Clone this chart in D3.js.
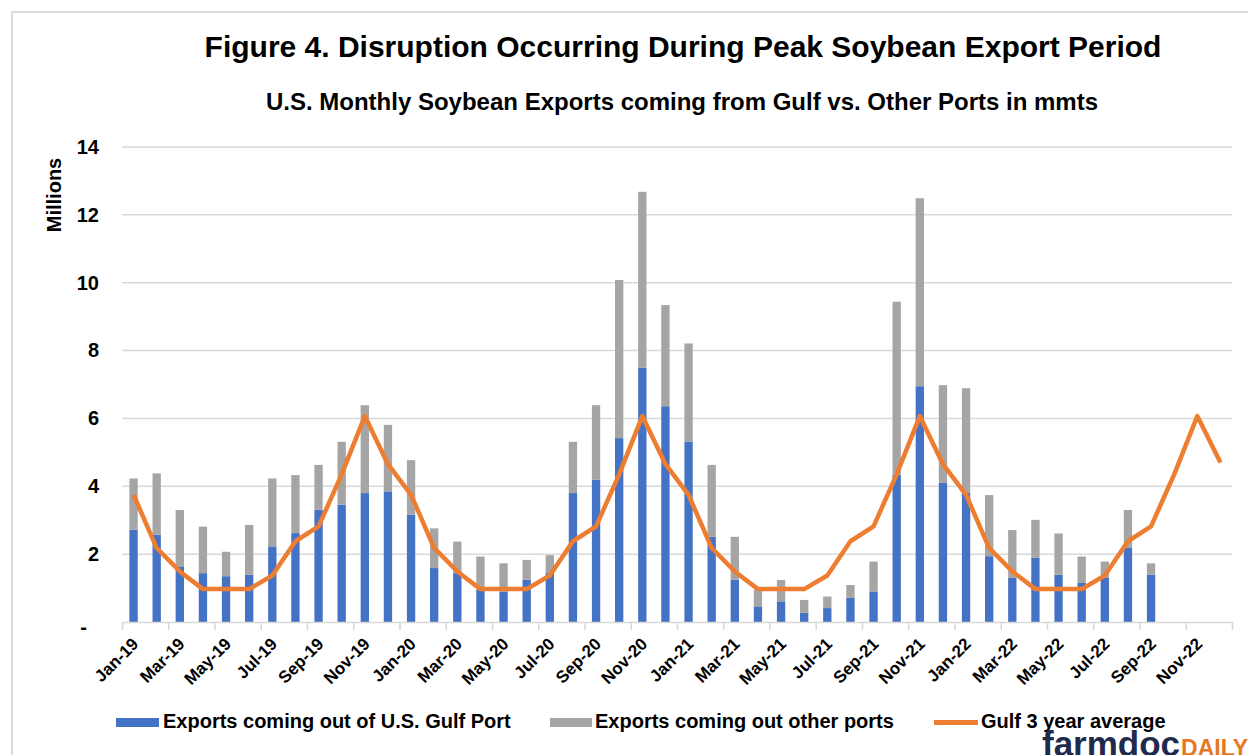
<!DOCTYPE html>
<html>
<head>
<meta charset="utf-8">
<style>
  body { margin: 0; background: #fff; }
  svg { display: block; font-family: "Liberation Sans", Arial, sans-serif; }
</style>
</head>
<body>
<svg width="1248" height="755"></svg>
<script src="https://d3js.org/d3.v7.min.js"></script>
<script>

    // months shown on the x axis, Jan-19 .. Dec-22
    var months = [
        "Jan-19", "Feb-19", "Mar-19", "Apr-19", "May-19", "Jun-19", "Jul-19", "Aug-19", "Sep-19", "Oct-19", "Nov-19", "Dec-19",
        "Jan-20", "Feb-20", "Mar-20", "Apr-20", "May-20", "Jun-20", "Jul-20", "Aug-20", "Sep-20", "Oct-20", "Nov-20", "Dec-20",
        "Jan-21", "Feb-21", "Mar-21", "Apr-21", "May-21", "Jun-21", "Jul-21", "Aug-21", "Sep-21", "Oct-21", "Nov-21", "Dec-21",
        "Jan-22", "Feb-22", "Mar-22", "Apr-22", "May-22", "Jun-22", "Jul-22", "Aug-22", "Sep-22", "Oct-22", "Nov-22", "Dec-22"
    ];

    // exports out of the U.S. Gulf port (millions of tons)
    var gulfExports = [
        2.72, 2.57, 1.64, 1.44, 1.35, 1.39, 2.23, 2.62, 3.31, 3.46, 3.80, 3.85,
        3.16, 1.59, 1.44, 0.95, 0.90, 1.25, 1.44, 3.80, 4.19, 5.42, 7.49, 6.36,
        5.32, 2.52, 1.25, 0.46, 0.61, 0.27, 0.41, 0.71, 0.90, 4.34, 6.95, 4.10,
        3.80, 1.94, 1.30, 1.89, 1.39, 1.15, 1.30, 2.18, 1.39, null, null, null
    ];

    // exports out of the other ports, stacked on top
    var otherExports = [
        1.51, 1.81, 1.66, 1.37, 0.72, 1.47, 2.00, 1.71, 1.32, 1.85, 2.59, 1.96,
        1.61, 1.17, 0.93, 0.98, 0.83, 0.58, 0.53, 1.51, 2.20, 4.66, 5.19, 2.98,
        2.89, 2.11, 1.26, 0.49, 0.63, 0.38, 0.34, 0.38, 0.88, 5.10, 5.54, 2.88,
        3.09, 1.80, 1.41, 1.12, 1.22, 0.78, 0.48, 1.12, 0.34, null, null, null
    ];

    // gulf 3 year average
    var gulfAverage = [
        3.75, 2.18, 1.49, 0.97, 0.97, 0.97, 1.37, 2.38, 2.82, 4.35, 6.07, 4.65,
        3.75, 2.18, 1.49, 0.97, 0.97, 0.97, 1.37, 2.38, 2.82, 4.35, 6.07, 4.65,
        3.75, 2.18, 1.49, 0.97, 0.97, 0.97, 1.37, 2.38, 2.82, 4.35, 6.07, 4.65,
        3.75, 2.18, 1.49, 0.97, 0.97, 0.97, 1.37, 2.38, 2.82, 4.35, 6.07, 4.70
    ];

    var yTicks = [0, 2, 4, 6, 8, 10, 12, 14];

    var svg = d3.select("svg"),
        margin = {top: 147, right: 16, bottom: 133, left: 122},
        width = 1232 - margin.left,
        height = 622 - margin.top;

    var blue = "#4472c4", grey = "#a5a5a5", orange = "#ed7d31", gridColor = "#d9d9d9";

    // outer frame (only top / left visible in the picture)
    svg.append("rect")
        .attr("x", 12).attr("y", 12)
        .attr("width", 1300).attr("height", 800)
        .attr("fill", "none")
        .attr("stroke", "#d0d0d0")
        .attr("stroke-width", 1.5);

    // titles
    svg.append("text")
        .attr("x", 683).attr("y", 57)
        .attr("text-anchor", "middle")
        .style("font-size", "30px").style("font-weight", "bold")
        .text("Figure 4. Disruption Occurring During Peak Soybean Export Period");

    svg.append("text")
        .attr("x", 682).attr("y", 110)
        .attr("text-anchor", "middle")
        .style("font-size", "24px").style("font-weight", "bold")
        .text("U.S. Monthly Soybean Exports coming from Gulf vs. Other Ports in mmts");

    var g = svg.append("g").attr("transform", "translate(" + margin.left + "," + margin.top + ")");

    var x = d3.scaleBand()
        .domain(months)
        .range([0, width])
        .paddingInner(0.64)
        .paddingOuter(0.32);

    var y = d3.scaleLinear()
        .domain([0, 14])
        .range([height, 0]);

    // gridlines
    g.append("g")
        .selectAll("line")
        .data(yTicks.filter(function (d) { return d > 0; }))
        .enter().append("line")
        .attr("x1", 0).attr("x2", width)
        .attr("y1", function (d) { return y(d); })
        .attr("y2", function (d) { return y(d); })
        .attr("stroke", gridColor)
        .attr("stroke-width", 1.5);

    // y axis labels
    var yAxis = g.append("g")
        .call(d3.axisLeft(y).tickValues(yTicks).tickSize(0).tickPadding(23)
            .tickFormat(function (d) { return d === 0 ? "-" : d; }));
    yAxis.select(".domain").remove();
    yAxis.selectAll("text")
        .style("font-size", "20px").style("font-weight", "bold")
        .attr("fill", "#000")
        .attr("font-family", null);
    yAxis.selectAll(".tick")
        .filter(function (d) { return d === 0; })
        .select("text")
        .attr("x", -35).attr("dy", "0.55em");

    svg.append("text")
        .attr("transform", "translate(61,195) rotate(-90)")
        .attr("text-anchor", "middle")
        .style("font-size", "20px").style("font-weight", "bold")
        .text("Millions");

    // stacked bars
    var stackData = months.map(function (m, i) {
        return {month: m, gulf: gulfExports[i], other: otherExports[i]};
    }).filter(function (d) { return d.gulf !== null; });

    var series = d3.stack().keys(["gulf", "other"])(stackData);
    var colors = {gulf: blue, other: grey};

    g.selectAll(".series")
        .data(series)
        .enter().append("g")
        .attr("fill", function (s) { return colors[s.key]; })
        .selectAll("rect")
        .data(function (s) { return s; })
        .enter().append("rect")
        .attr("x", function (d) { return x(d.data.month); })
        .attr("width", x.bandwidth())
        .attr("y", function (d) { return y(d[1]); })
        .attr("height", function (d) { return y(d[0]) - y(d[1]); });

    // x axis: line, tick marks between every second month
    var idx = d3.scaleLinear().domain([0, months.length]).range([0, width]);
    var tickAxis = g.append("g")
        .attr("transform", "translate(0," + height + ")")
        .call(d3.axisBottom(idx).tickValues(d3.range(0, months.length + 1, 2)).tickSize(8).tickFormat(""));
    tickAxis.select(".domain").attr("stroke", gridColor).attr("stroke-width", 1.5);
    tickAxis.selectAll(".tick line").attr("stroke", gridColor).attr("stroke-width", 1.5);

    var labelAxis = g.append("g")
        .attr("transform", "translate(0," + height + ")")
        .call(d3.axisBottom(x).tickValues(months.filter(function (m, i) { return i % 2 === 0; })).tickSize(0));
    labelAxis.select(".domain").remove();
    labelAxis.selectAll("text")
        .attr("font-family", null)
        .style("font-size", "17px").style("font-weight", "bold")
        .attr("fill", "#000")
        .attr("text-anchor", "end")
        .attr("dy", null)
        .attr("y", 0)
        .attr("transform", "translate(6,23) rotate(-45)");

    // gulf 3 year average
    var line = d3.line()
        .x(function (d, i) { return x(months[i]) + x.bandwidth() / 2; })
        .y(function (d) { return y(d); });

    g.append("path")
        .datum(gulfAverage)
        .attr("d", line)
        .attr("fill", "none")
        .attr("stroke", orange)
        .attr("stroke-width", 4.5)
        .attr("stroke-linejoin", "round");

    // legend
    var legend = svg.append("g").style("font-size", "20px").style("font-weight", "bold");

    legend.append("rect").attr("x", 116).attr("y", 718).attr("width", 43).attr("height", 9).attr("fill", blue);
    legend.append("text").attr("x", 163).attr("y", 728).text("Exports coming out of U.S. Gulf Port");

    legend.append("rect").attr("x", 550).attr("y", 718).attr("width", 42).attr("height", 9).attr("fill", grey);
    legend.append("text").attr("x", 595).attr("y", 728).text("Exports coming out other ports");

    legend.append("line").attr("x1", 934).attr("x2", 978).attr("y1", 722.5).attr("y2", 722.5)
        .attr("stroke", orange).attr("stroke-width", 5);
    legend.append("text").attr("x", 981).attr("y", 728).text("Gulf 3 year average");

    // farmdoc daily mark
    var logo = svg.append("text").attr("x", 1042).attr("y", 756)
        .style("font-weight", "bold");
    logo.append("tspan").attr("fill", "#1f2b4d").style("font-size", "35px").text("farmdoc");
    logo.append("tspan").attr("fill", "#e87722").style("font-size", "23px").attr("dx", 1).text("DAILY");

</script>
</body>
</html>
